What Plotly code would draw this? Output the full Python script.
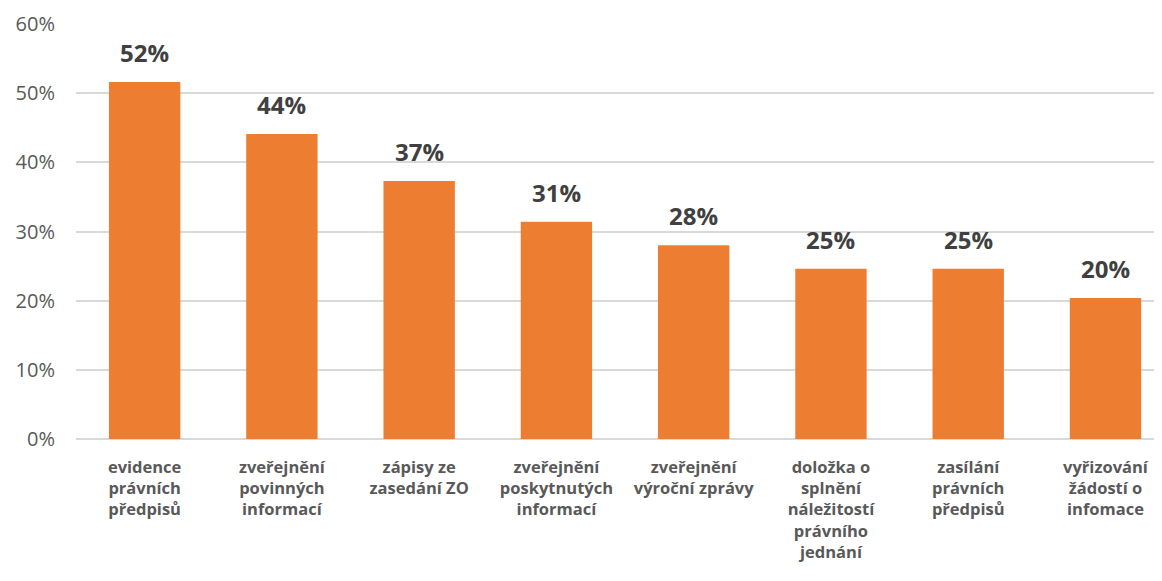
import plotly.graph_objects as go

categories = [
    "evidence<br>právních<br>předpisů",
    "zveřejnění<br>povinných<br>informací",
    "zápisy ze<br>zasedání ZO",
    "zveřejnění<br>poskytnutých<br>informací",
    "zveřejnění<br>výroční zprávy",
    "doložka o<br>splnění<br>náležitostí<br>právního<br>jednání",
    "zasílání<br>právních<br>předpisů",
    "vyřizování<br>žádostí o<br>infomace",
]
values = [0.516, 0.441, 0.373, 0.314, 0.280, 0.246, 0.246, 0.204]
y_ticks = [0, 0.1, 0.2, 0.3, 0.4, 0.5, 0.6]

font_family = "Open Sans, Liberation Sans, sans-serif"

fig = go.Figure()
fig.add_trace(go.Bar(
    x=list(range(len(categories))),
    y=values,
    marker=dict(color="#ED7D31", line=dict(width=0)),
    hoverinfo="skip",
))

for i, v in enumerate(values):
    fig.add_annotation(
        x=i, y=v, text=f"<b>{round(v*100):d}%</b>",
        showarrow=False, yanchor="bottom", yshift=11,
        font=dict(family=font_family, size=24, color="#404040"),
    )

fig.update_layout(
    width=1162, height=581,
    margin=dict(l=68, r=0, t=16, b=150),
    paper_bgcolor="white", plot_bgcolor="white",
    showlegend=False,
    bargap=0.48,
    font=dict(family=font_family),
)
fig.update_xaxes(
    tickmode="array",
    tickvals=list(range(len(categories))),
    ticktext=[f"<b>{c}</b>" for c in categories],
    tickfont=dict(family=font_family, size=16.5, color="#595959"),
    range=[-0.5, 7.47],
    showgrid=False, zeroline=False, showline=False, ticks="",
    automargin=False, ticklabelstandoff=16,
)
fig.update_yaxes(
    range=[0, 0.6],
    tickmode="array",
    tickvals=y_ticks,
    ticktext=[f"{int(round(t*100))}%" for t in y_ticks],
    tickfont=dict(family=font_family, size=20, color="#595959"),
    showgrid=True, gridcolor="#D9D9D9", gridwidth=1.5,
    zeroline=True, zerolinecolor="#D9D9D9", zerolinewidth=1.5,
    showline=False, ticks="", ticklabelstandoff=20,
    automargin=False,
)

fig.write_html("out.html")
